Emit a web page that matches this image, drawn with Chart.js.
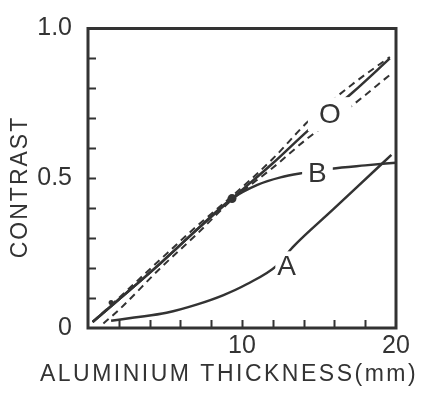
<!DOCTYPE html>
<html>
<head>
<meta charset="utf-8">
<script src="https://cdn.jsdelivr.net/npm/chart.js@4.4.1/dist/chart.umd.min.js"></script>
<style>
  html, body { margin: 0; padding: 0; background: #fff; }
  canvas { display: block; }
</style>
</head>
<body>
<canvas id="chart" width="424" height="395"></canvas>
<script>
// thickness (mm) / contrast values
const thicknessO = [0.3, 2, 4.7, 7, 9.35, 12, 14.3, 17.2, 19.6];
const contrastO = [0.02, 0.095, 0.216, 0.325, 0.432, 0.55, 0.66, 0.787, 0.9];
const contrastOUpper = [0.02, 0.1, 0.229, 0.337, 0.44, 0.565, 0.69, 0.815, 0.905];

const thicknessOLower = [1.0, 2, 4.7, 7, 9.35, 12, 14.3, 17.2, 19.6];
const contrastOLower = [0.015, 0.06, 0.2, 0.31, 0.428, 0.535, 0.635, 0.745, 0.845];

const thicknessB = [0.3, 2, 4.7, 7, 9.35, 11, 12.5, 14, 15.8, 18, 20];
const contrastB = [0.02, 0.095, 0.216, 0.325, 0.432, 0.478, 0.503, 0.518, 0.532, 0.543, 0.552];

const thicknessA = [1.5, 3, 5.1, 7.1, 8.8, 10.3, 12.3, 13.3, 15.9, 17.5, 19.7];
const contrastA = [0.024, 0.035, 0.051, 0.079, 0.11, 0.146, 0.21, 0.27, 0.395, 0.472, 0.578];

const markThickness = [1.5, 9.35];
const markContrast = [0.085, 0.432];

const curveNames = ["O", "B", "A"];
const curveNameX = [15.7, 14.9, 12.9];
const curveNameY = [0.714, 0.517, 0.206];

const xTickLabels = { 10: "10", 20: "20" };
const yTickLabels = { 0: "0", 5: "0.5", 10: "1.0" };

const INK = "#333";
const FONT = '"Liberation Sans", Arial, sans-serif';
const labelPad = [{ x: 11, y: 4 }, { x: 6, y: 2 }, { x: 2, y: 2 }];

function pts(xs, ys) {
  return xs.map((x, i) => ({ x, y: ys[i] }));
}

const overlay = {
  id: "overlay",
  afterDatasetsDraw(chart) {
    const { ctx, scales: { x, y } } = chart;
    ctx.save();
    ctx.font = `28px ${FONT}`;
    ctx.textAlign = "center";
    ctx.textBaseline = "middle";
    curveNames.forEach((name, i) => {
      const px = x.getPixelForValue(curveNameX[i]);
      const py = y.getPixelForValue(curveNameY[i]);
      const w = ctx.measureText(name).width;
      const p = labelPad[i];
      ctx.fillStyle = "#fff";
      ctx.fillRect(px - w / 2 - p.x, py - 13 - p.y, w + 2 * p.x, 26 + 2 * p.y);
      ctx.fillStyle = INK;
      ctx.fillText(name, px, py + 1);
    });
    ctx.restore();
  },
  afterDraw(chart) {
    const { ctx, chartArea: a, scales: { x, y } } = chart;
    ctx.save();
    ctx.strokeStyle = INK;
    ctx.lineWidth = 2;
    ctx.beginPath();
    x.ticks.slice(1, -1).forEach((t) => {
      const px = Math.round(x.getPixelForValue(t.value)) + 0.5;
      ctx.moveTo(px, a.bottom);
      ctx.lineTo(px, a.bottom - 8);
    });
    y.ticks.slice(1, -1).forEach((t) => {
      const py = Math.round(y.getPixelForValue(t.value)) + 0.5;
      ctx.moveTo(a.left, py);
      ctx.lineTo(a.left + 8, py);
    });
    ctx.stroke();

    ctx.lineWidth = 3;
    ctx.strokeRect(a.left, a.top, a.right - a.left, a.bottom - a.top);

    ctx.fillStyle = INK;
    ctx.textAlign = "center";
    ctx.textBaseline = "middle";
    ctx.font = `23px ${FONT}`;
    ctx.letterSpacing = "2.5px";
    ctx.fillText("ALUMINIUM THICKNESS(mm)", 229, 375);

    ctx.letterSpacing = "2px";
    ctx.translate(21, 187);
    ctx.rotate(-Math.PI / 2);
    ctx.fillText("CONTRAST", 0, 0);
    ctx.restore();
  },
};

const lineStyle = {
  borderColor: INK,
  borderWidth: 2.5,
  pointRadius: 0,
  fill: false,
  cubicInterpolationMode: "monotone",
};

new Chart(document.getElementById("chart"), {
  type: "line",
  data: {
    datasets: [
      { ...lineStyle, label: "O upper", data: pts(thicknessO, contrastOUpper), borderWidth: 2, borderDash: [7, 5] },
      { ...lineStyle, label: "O lower", data: pts(thicknessOLower, contrastOLower), borderWidth: 2, borderDash: [7, 5] },
      { ...lineStyle, label: "O", data: pts(thicknessO, contrastO) },
      { ...lineStyle, label: "B", data: pts(thicknessB, contrastB) },
      { ...lineStyle, label: "A", data: pts(thicknessA, contrastA) },
      {
        label: "marks",
        data: pts(markThickness, markContrast),
        showLine: false,
        pointRadius: [2.5, 4.5],
        pointBackgroundColor: INK,
        pointBorderWidth: 0,
      },
    ],
  },
  options: {
    responsive: false,
    animation: false,
    events: [],
    layout: { padding: { top: 13, right: 28, left: 0, bottom: 0 } },
    plugins: { legend: { display: false }, tooltip: { enabled: false } },
    scales: {
      x: {
        type: "linear",
        min: 0,
        max: 20,
        afterFit: (s) => { s.height = 67; },
        grid: { display: false, drawTicks: false },
        border: { display: false },
        ticks: {
          stepSize: 2,
          autoSkip: false,
          maxRotation: 0,
          padding: 6,
          color: INK,
          font: { family: FONT, size: 25, lineHeight: 1 },
          callback: (v) => xTickLabels[v] ?? "",
        },
      },
      y: {
        type: "linear",
        min: 0,
        max: 1,
        afterFit: (s) => { s.width = 88; },
        grid: { display: false, drawTicks: false },
        border: { display: false },
        ticks: {
          stepSize: 0.1,
          autoSkip: false,
          padding: 16,
          color: INK,
          font: { family: FONT, size: 25, lineHeight: 1 },
          callback: (v) => yTickLabels[Math.round(v * 10)] ?? "",
        },
      },
    },
  },
  plugins: [overlay],
});
</script>
</body>
</html>
